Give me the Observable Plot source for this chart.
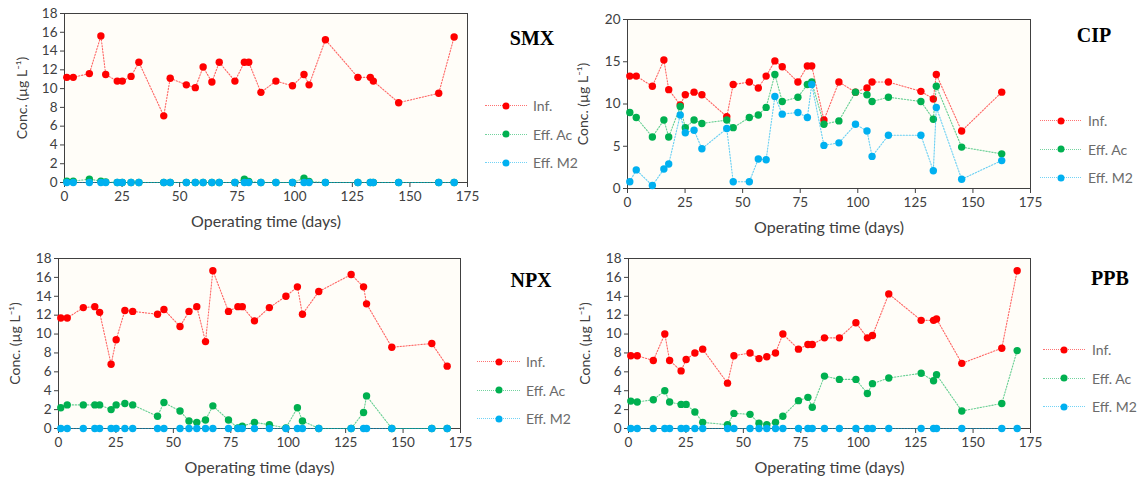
<!DOCTYPE html>
<html><head><meta charset="utf-8">
<script src="https://cdn.jsdelivr.net/npm/d3@7"></script>
<script src="https://cdn.jsdelivr.net/npm/@observablehq/plot@0.6"></script>
<style>
body{margin:0;background:#fff;font-family:Lato,"Open Sans",sans-serif;}
#wrap{position:relative;width:1144px;height:484px;overflow:hidden;}
.panel{position:absolute;}
.title{position:absolute;font-family:"Liberation Serif","DejaVu Serif",serif;font-weight:bold;font-size:20px;color:#000;transform:translate(-50%,-50%);white-space:nowrap;}
.leg{position:absolute;font-family:Lato,sans-serif;font-size:14px;color:#6b6b6b;white-space:nowrap;transform:translateY(-50%);}
.sw{position:absolute;height:0;border-top:1.2px dotted;opacity:0.55;}
.dt{position:absolute;width:7px;height:7px;border-radius:50%;transform:translate(-50%,-50%);}
</style></head><body><div id="wrap"></div>
<script>
// Sampling days (operating time)
const days = [1, 3.8, 10.8, 15.8, 17.9, 22.9, 25.1, 28.9, 32.3, 43.1, 45.9, 52.9, 56.8, 60.2, 64.0, 67.2, 74.0, 78.1, 80.0, 85.3, 91.8, 99.0, 104.0, 106.2, 113.3, 127.4, 132.8, 134.1, 145.1, 162.5, 169.2];
const seriesNames = ["Inf.", "Eff. Ac", "Eff. M2"];
const seriesColors = ["#ff0000", "#00b050", "#00b0f0"];
const xTicks = [0, 25, 50, 75, 100, 125, 150, 175];
const xLabel = "Operating time (days)";
const yLabel = "Conc. (µg L⁻¹)";

// SMX
const smxInf = [11.2, 11.2, 11.6, 15.6, 11.5, 10.8, 10.8, 11.3, 12.8, 7.1, 11.1, 10.4, 10.1, 12.3, 10.7, 12.8, 10.8, 12.8, 12.8, 9.6, 10.8, 10.3, 11.5, 10.4, 15.2, 11.2, 11.2, 10.8, 8.5, 9.5, 15.5];
const smxAc = [0.15, 0.15, 0.35, 0.15, 0.05, 0, 0, 0, 0, 0, 0, 0, 0, 0, 0, 0, 0, 0.35, 0.1, 0, 0, 0, 0.45, 0.1, 0, 0, 0, 0, 0, 0, 0];
const smxM2 = [0, 0, 0, 0, 0, 0, 0, 0, 0, 0, 0, 0, 0, 0, 0, 0, 0, 0, 0, 0, 0, 0, 0, 0, 0, 0, 0, 0, 0, 0, 0];

// CIP
const cipInf = [13.3, 13.3, 12.1, 15.2, 11.7, 9.9, 11.1, 11.4, 11.1, 8.5, 12.3, 12.6, 11.9, 13.3, 15.1, 14.4, 12.6, 14.5, 14.5, 8.1, 12.6, 11.4, 11.9, 12.6, 12.6, 11.5, 10.6, 13.5, 6.8, 11.4, null];
const cipAc = [9.0, 8.4, 6.1, 8.1, 6.1, 9.7, 7.2, 8.1, 7.7, 8.1, 7.2, 8.4, 8.7, 9.6, 13.5, 10.3, 10.8, 12.3, 12.6, 7.6, 8.0, 11.4, 11.1, 10.3, 10.8, 10.3, 8.2, 12.1, 4.9, 4.1, null];
const cipM2 = [0.8, 2.2, 0.35, 2.3, 2.9, 8.7, 6.6, 6.9, 4.7, 7.1, 0.8, 0.8, 3.5, 3.4, 10.9, 8.8, 9.0, 8.4, 12.3, 5.1, 5.4, 7.6, 6.8, 3.8, 6.3, 6.3, 2.1, 9.6, 1.1, 3.3, null];

// NPX
const npxInf = [11.7, 11.7, 12.8, 12.9, 12.3, 6.8, 9.4, 12.5, 12.4, 12.1, 12.6, 10.8, 12.4, 12.9, 9.2, 16.7, 12.4, 12.9, 12.9, 11.4, 12.8, 14.0, 15.0, 12.1, 14.5, 16.3, 15.0, 13.2, 8.6, 9.0, 6.6];
const npxAc = [2.2, 2.5, 2.5, 2.5, 2.5, 2.0, 2.5, 2.65, 2.5, 1.3, 2.75, 1.85, 0.8, 0.65, 0.9, 2.4, 0.9, 0.05, 0.25, 0.65, 0.4, 0.05, 2.2, 0.8, 0, 0, 1.7, 3.45, 0, 0, 0];
const npxM2 = [0, 0, 0, 0, 0, 0, 0, 0, 0, 0, 0, 0, 0, 0, 0, 0, 0, 0, 0, 0, 0, 0, 0, 0, 0, 0, 0, 0, 0, 0, 0];

// PPB
const ppbInf = [7.7, 7.7, 7.2, 10.0, 7.2, 6.1, 7.3, 8.0, 8.4, 4.8, 7.7, 8.0, 7.4, 7.6, 8.0, 10.0, 8.4, 8.9, 8.9, 9.6, 9.6, 11.2, 9.6, 9.85, 14.25, 11.45, 11.45, 11.6, 6.9, 8.5, 16.7];
const ppbAc = [2.9, 2.8, 3.05, 4.0, 2.8, 2.55, 2.55, 1.75, 0.65, 0.4, 1.6, 1.5, 0.55, 0.4, 0.65, 1.3, 2.95, 3.3, 2.25, 5.55, 5.2, 5.2, 3.7, 4.75, 5.35, 5.85, 5.05, 5.7, 1.85, 2.65, 8.25];
const ppbM2 = [0, 0, 0, 0, 0, 0, 0, 0, 0, 0, 0, 0, 0, 0, 0, 0, 0, 0, 0, 0, 0, 0, 0, 0, 0, 0, 0, 0, 0, 0, 0];

const panels = [
  {name: "SMX", series: [smxInf, smxAc, smxM2], yMax: 18, yTicks: d3.range(0, 19, 2),
   left: 0, top: 0, width: 570, height: 240, m: {l: 64, r: 103, t: 13, b: 58}, yLabDx: -42,
   title: [532, 38], leg: {x0: 485, x1: 527, y0: 105, dy: 28.5, tx: 533}},
  {name: "CIP", series: [cipInf, cipAc, cipM2], yMax: 20, yTicks: d3.range(0, 21, 5),
   left: 570, top: 0, width: 574, height: 240, m: {l: 57, r: 114, t: 19, b: 52}, yLabDx: -44,
   title: [1094, 35], leg: {x0: 1040, x1: 1081, y0: 120, dy: 28.5, tx: 1088}},
  {name: "NPX", series: [npxInf, npxAc, npxM2], yMax: 18, yTicks: d3.range(0, 19, 2),
   left: 0, top: 240, width: 570, height: 244, m: {l: 58, r: 110, t: 18, b: 56}, yLabDx: -43,
   title: [531, 280], leg: {x0: 477, x1: 520, y0: 361, dy: 28.5, tx: 526}},
  {name: "PPB", series: [ppbInf, ppbAc, ppbM2], yMax: 18, yTicks: d3.range(0, 19, 2),
   left: 570, top: 240, width: 574, height: 244, m: {l: 58, r: 114, t: 18, b: 56}, yLabDx: -43,
   title: [1110, 278], leg: {x0: 1043, x1: 1085, y0: 349, dy: 28.5, tx: 1092}}
];

const wrap = document.getElementById("wrap");

for (const p of panels) {
  const marks = [
    Plot.frame({fill: "#fffdf8", stroke: null}),
    Plot.axisY({ticks: p.yTicks, tickSize: 4, tickPadding: 3, label: null}),
    Plot.axisX({ticks: xTicks, tickSize: 5, tickPadding: 4, label: null}),
    Plot.text([xLabel], {frameAnchor: "bottom", dy: 44, text: d => d, fontSize: 16, fill: "#404040"}),
    Plot.text([yLabel], {frameAnchor: "left", textAnchor: "middle", dx: p.yLabDx, rotate: -90, text: d => d, fontSize: 14, fill: "#404040"}),
    Plot.frame({stroke: "#404040", strokeWidth: 1})
  ];
  p.series.forEach((vals, i) => {
    const data = days.map((d, j) => ({day: d, v: vals[j]})).filter(r => r.v != null);
    marks.push(Plot.line(data, {x: "day", y: "v", stroke: seriesColors[i], strokeWidth: 1.1, strokeDasharray: "1.3,1.7", strokeOpacity: 0.6}));
    marks.push(Plot.dot(data, {x: "day", y: "v", fill: seriesColors[i], r: 3.7}));
  });
  const svg = Plot.plot({
    width: p.width, height: p.height,
    marginLeft: p.m.l, marginRight: p.m.r, marginTop: p.m.t, marginBottom: p.m.b,
    x: {domain: [0, 175]},
    y: {domain: [0, p.yMax]},
    style: {fontFamily: "Lato, 'Open Sans', sans-serif", fontSize: "13.5px", color: "#404040", background: "transparent", overflow: "visible"},
    marks
  });
  const div = document.createElement("div");
  div.className = "panel";
  div.style.left = p.left + "px";
  div.style.top = p.top + "px";
  div.appendChild(svg);
  wrap.appendChild(div);

  const t = document.createElement("div");
  t.className = "title";
  t.textContent = p.name;
  t.style.left = p.title[0] + "px";
  t.style.top = p.title[1] + "px";
  wrap.appendChild(t);

  seriesNames.forEach((nm, i) => {
    const y = p.leg.y0 + i * p.leg.dy;
    const sw = document.createElement("div");
    sw.className = "sw";
    sw.style.left = p.leg.x0 + "px";
    sw.style.width = (p.leg.x1 - p.leg.x0) + "px";
    sw.style.top = y + "px";
    sw.style.borderColor = seriesColors[i];
    wrap.appendChild(sw);
    const dt = document.createElement("div");
    dt.className = "dt";
    dt.style.left = ((p.leg.x0 + p.leg.x1) / 2) + "px";
    dt.style.top = (y + 0.5) + "px";
    dt.style.background = seriesColors[i];
    wrap.appendChild(dt);
    const lb = document.createElement("div");
    lb.className = "leg";
    lb.textContent = nm;
    lb.style.left = p.leg.tx + "px";
    lb.style.top = y + "px";
    wrap.appendChild(lb);
  });
}
</script>
</body></html>
